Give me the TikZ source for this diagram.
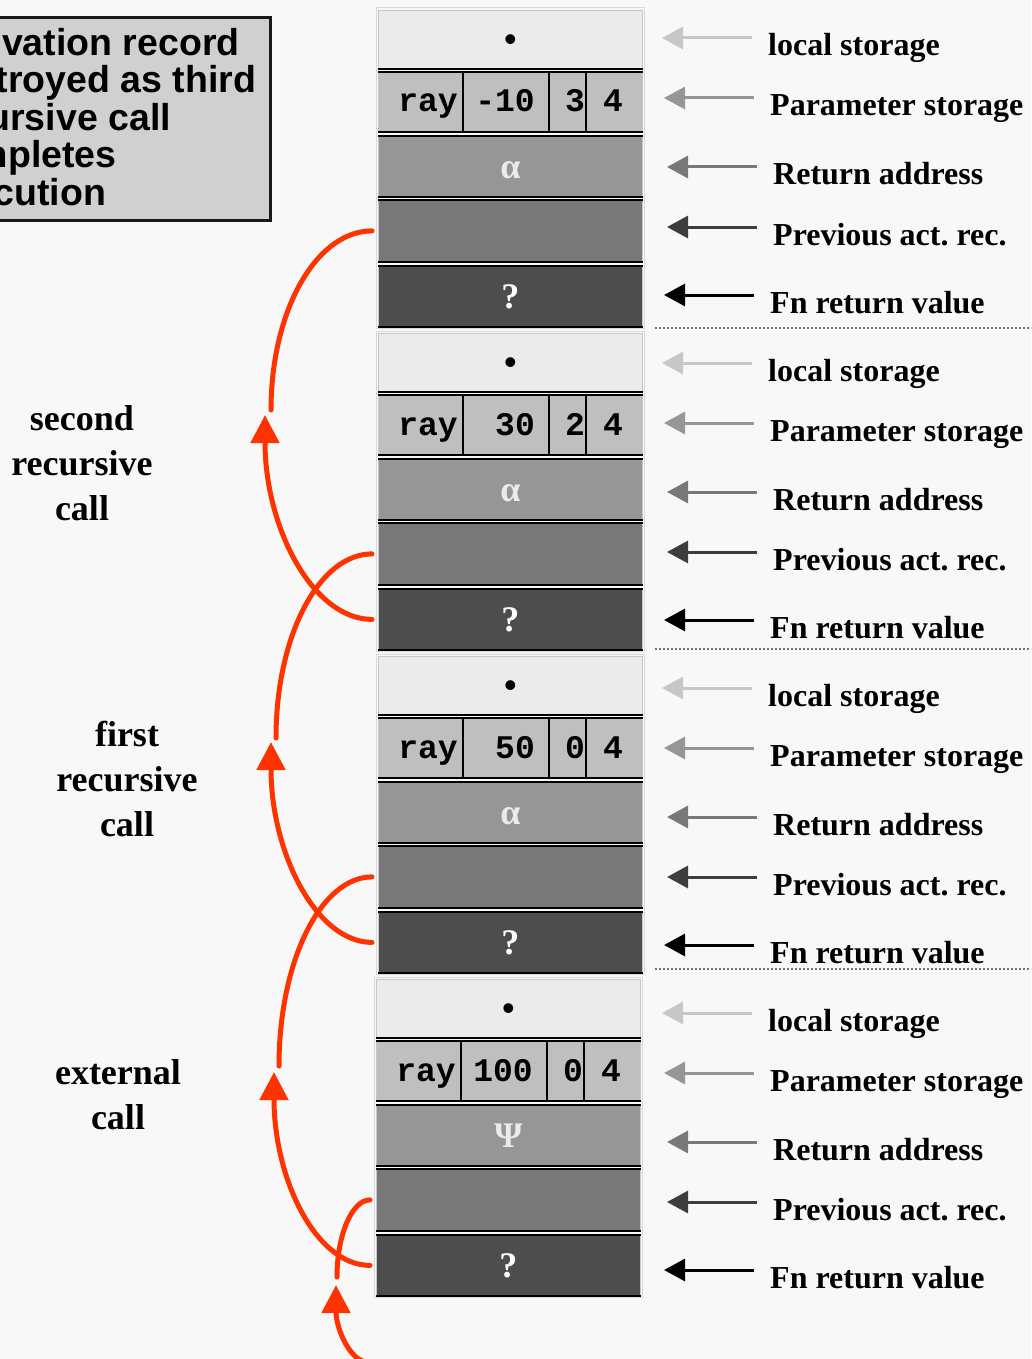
\documentclass[tikz,border=0pt]{standalone}
\usepackage{fontspec}
\setmainfont{Liberation Serif}
\setsansfont{Liberation Sans}
\setmonofont{Liberation Mono}
\usetikzlibrary{arrows.meta, positioning}
\frenchspacing

\definecolor{bgpage}{HTML}{F8F8F8}
\definecolor{loccol}{HTML}{EBEBEB}
\definecolor{parcol}{HTML}{BFBFBF}
\definecolor{retcol}{HTML}{969696}
\definecolor{prvcol}{HTML}{787878}
\definecolor{fnrcol}{HTML}{4D4D4D}
\definecolor{callred}{HTML}{FF3300}
\definecolor{notecol}{HTML}{D0D0D0}

\begin{document}
\begin{tikzpicture}[x=1pt, y=-1pt,
        cell/.style={rectangle, draw=black!22, line width=0.8pt, minimum width=264pt, inner sep=0pt, anchor=north west, font=\fontsize{36}{36}\selectfont\bfseries},
        sep/.style={line width=2.5pt, black},
        mono/.style={inner sep=0pt, anchor=base east, font=\fontsize{33}{33}\selectfont\ttfamily\bfseries},
        lab/.style={inner sep=0pt, anchor=base west, font=\fontsize{32}{32}\selectfont\bfseries},
        side/.style={inner sep=0pt, anchor=north, align=center, font=\fontsize{36}{45}\selectfont\bfseries},
        ptr/.style={-{Triangle[length=21pt, width=22pt]}, line width=3pt},
        callarrow/.style={-{Triangle[length=28pt, width=28pt]}, line width=5pt, line cap=round, callred},
        callline/.style={line width=5pt, line cap=round, callred}
    ]
        \path[use as bounding box, fill=bgpage] (0,0) rectangle (1031,1359);

        % Note box (cut off at the left edge)
        \node[rectangle, draw=black!90, line width=3pt, fill=notecol, anchor=north west, minimum width=359pt, minimum height=203pt, inner sep=0pt] (note) at (-90,16) {};
        \node[inner sep=0pt, anchor=north west, align=left, font=\fontsize{37.5}{37.5}\selectfont\sffamily\bfseries] (notetxt) at (-69,28) {Activation record\\destroyed as third\\recursive call\\completes\\execution};

        % Activation records
        \foreach \k/\ytop/\dx/\val/\lev/\retsym in {1/10/0/-10/3/α, 2/333/0/30/2/α, 3/656/0/50/0/α, 4/979/-2/100/0/Ψ} {
            \node[cell, fill=loccol, minimum height=58pt, text height=25pt, text depth=0pt] (loc\k) at (378+\dx, \ytop) {•};
            \node[cell, fill=parcol, minimum height=59pt] (par\k) at (378+\dx, \ytop+62) {};
            \node[cell, fill=retcol, minimum height=60pt, text=black!8, text height=25pt, text depth=0pt] (ret\k) at (378+\dx, \ytop+126) {\retsym};
            \node[cell, fill=prvcol, minimum height=61pt] (prv\k) at (378+\dx, \ytop+190) {};
            \node[cell, fill=fnrcol, minimum height=60pt, text=white] (fnr\k) at (378+\dx, \ytop+256) {?};
            \draw[black!15, line width=1pt] ([shift={(-2,-2)}]loc\k.north west) rectangle ([shift={(2,2)}]fnr\k.south east);
            \foreach \c in {loc,par,ret,prv,fnr}
                \draw[sep] (\c\k.south west) -- (\c\k.south east);
            \foreach \c in {par,ret,prv,fnr}
                \draw[sep] (\c\k.north west) -- (\c\k.north east);
            \foreach \xd in {85,171,208}
                \draw[line width=2.5pt] ([xshift=\xd pt]par\k.north west) -- ([xshift=\xd pt]par\k.south west);
            \node[mono] (nm\k) at (378+\dx+80, \ytop+102) {ray};
            \node[mono] (vl\k) at (378+\dx+157, \ytop+102) {\val};
            \node[mono] (lv\k) at (378+\dx+207, \ytop+102) {\lev};
            \node[mono, anchor=base] (dm\k) at (378+\dx+235, \ytop+102) {4};
        }

        % Labels and pointers
        \foreach \k/\yb in {1/56, 2/381, 3/706, 4/1031} {
            \node[lab] (lloc\k) at (768, \yb) {local storage};
            \node[lab] (lpar\k) at (770, \yb+60) {Parameter storage};
            \node[lab] (lret\k) at (773, \yb+129) {Return address};
            \node[lab] (lprv\k) at (773, \yb+189) {Previous act. rec.};
            \node[lab] (lfnr\k) at (770, \yb+257) {Fn return value};
            \draw[ptr, black!22] ([xshift=-16pt, yshift=18pt]lloc\k.base west) -- ++(-90,0);
            \draw[ptr, black!41] ([xshift=-16pt, yshift=18pt]lpar\k.base west) -- ++(-90,0);
            \draw[ptr, black!53] ([xshift=-16pt, yshift=18pt]lret\k.base west) -- ++(-90,0);
            \draw[ptr, black!76] ([xshift=-16pt, yshift=18pt]lprv\k.base west) -- ++(-90,0);
            \draw[ptr, black] ([xshift=-16pt, yshift=18pt]lfnr\k.base west) -- ++(-90,0);
        }
        \foreach \yd in {328, 649, 969}
            \draw[dotted, line width=2pt, black!55] (655,\yd) -- (1031,\yd);

        % Call labels
        \node[side] (second) at (82, 405.5) {second\\recursive\\call};
        \node[side] (first) at (127, 720.5) {first\\recursive\\call};
        \node[side] (external) at (118, 1059.5) {external\\call};

        % Dynamic links
        \coordinate (tip1) at (265,415);
        \coordinate (bend1) at (271,410);
        \coordinate (tip2) at (271,742);
        \coordinate (bend2) at (276,738);
        \coordinate (tip3) at (274,1072);
        \coordinate (bend3) at (279,1066);
        \coordinate (tip4) at (336,1285);
        \coordinate (bend4) at (337,1277);
        \coordinate (entry) at (368,1362);

        \draw[callarrow] ([xshift=-6pt]fnr2.west) .. controls +(-59,0) and +(0,113) .. (tip1);
        \draw[callline] (bend1) .. controls +(0,-99) and +(-56,0) .. ([xshift=-6pt]prv1.west);
        \draw[callarrow] ([xshift=-6pt]fnr3.west) .. controls +(-56,0) and +(0,110) .. (tip2);
        \draw[callline] (bend2) .. controls +(0,-102) and +(-53,0) .. ([xshift=-6pt]prv2.west);
        \draw[callarrow] ([xshift=-6pt]fnr4.west) .. controls +(-54,0) and +(0,107) .. (tip3);
        \draw[callline] (bend3) .. controls +(0,-105) and +(-51,0) .. ([xshift=-6pt]prv3.west);
        \draw[callarrow] (entry) .. controls +(-18,0) and +(0,43) .. (tip4);
        \draw[callline] (bend4) .. controls +(0,-42) and +(-18,0) .. ([xshift=-6pt]prv4.west);
    \end{tikzpicture}
\end{document}
